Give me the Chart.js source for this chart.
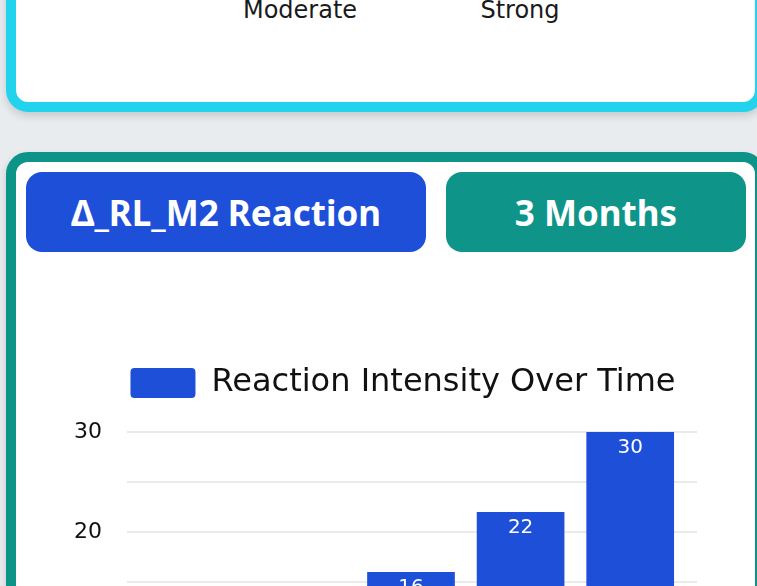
<!DOCTYPE html>
<html>
<head>
<meta charset="utf-8">
<script src="https://cdn.jsdelivr.net/npm/chart.js@4.4.0/dist/chart.umd.min.js"></script>
<style>
  html, body { margin: 0; padding: 0; }
  body { width: 757px; height: 586px; overflow: hidden; background: #e8ecef; position: relative; font-family: "DejaVu Sans", sans-serif; }
  .card { position: absolute; box-sizing: border-box; background: #fff; border-radius: 22px; box-shadow: 0 4px 8px rgba(0,0,0,0.15); }
  #topCard { left: 6px; top: -200px; width: 759px; height: 312px; border: 10px solid #22d3ee; }
  #chartCard { left: 6px; top: 152px; width: 759px; height: 800px; border: 10px solid #0d9488; }
  .lvl { position: absolute; top: -2px; font-size: 24px; line-height: 24px; color: #1a1a1a; transform: translateX(-50%); white-space: nowrap; }
  .head { position: absolute; top: 172px; height: 80px; border-radius: 16px; color: #fff; display: flex; align-items: center; justify-content: center; font-family: "Noto Sans", sans-serif; font-weight: 700; font-size: 35px; }
  #h1 { left: 26px; width: 400px; background: #1e4fd8; }
  #h2 { left: 446px; width: 300px; background: #0e9488; }
  #wrap { position: absolute; left: 26px; top: 272px; width: 720px; height: 520px; }
</style>
</head>
<body>
<div class="card" id="topCard"></div>
<div class="lvl" style="left:300px">Moderate</div>
<div class="lvl" style="left:520px">Strong</div>

<div class="card" id="chartCard"></div>
<div class="head" id="h1">Δ_RL_M2 Reaction</div>
<div class="head" id="h2">3 Months</div>

<div id="wrap"><canvas id="reactionChart"></canvas></div>

<script>
var labels = ["Baseline", "Week 2", "Month 1", "Month 2", "Month 3"];
var intensity = [6, 11, 16, 22, 30];
var yTicks = [0, 10, 20, 30];

var barBlue = "#1e4fd8";
var gridGray = "#ebebeb";

// white value labels near the top of each bar
var valueLabels = {
  id: "valueLabels",
  afterDatasetsDraw: function(chart) {
    var ctx = chart.ctx;
    ctx.save();
    ctx.fillStyle = "#fff";
    ctx.font = "20px 'DejaVu Sans'";
    ctx.textAlign = "center";
    ctx.textBaseline = "middle";
    chart.getDatasetMeta(0).data.forEach(function(bar, i) {
      ctx.fillText(intensity[i], bar.x, bar.y + 16);
    });
    ctx.restore();
  }
};

// leave some room under the legend
var legendGap = {
  id: "legendGap",
  beforeInit: function(chart) {
    var fit = chart.legend.fit;
    chart.legend.fit = function() {
      fit.bind(chart.legend)();
      this.height += 23;
    };
  }
};

var ctx = document.getElementById("reactionChart").getContext("2d");
var myChart = new Chart(ctx, {
  type: "bar",
  data: {
    labels: labels,
    datasets: [{
      label: "Reaction Intensity Over Time",
      data: intensity,
      backgroundColor: barBlue,
      borderWidth: 0,
      categoryPercentage: 0.8,
      barPercentage: 1.0
    }]
  },
  options: {
    responsive: true,
    maintainAspectRatio: false,
    animation: false,
    layout: { padding: { left: 47, right: 13, top: 85, bottom: 20 } },
    plugins: {
      legend: {
        labels: {
          boxWidth: 65,
          boxHeight: 30,
          useBorderRadius: true,
          borderRadius: 4,
          color: "#111",
          font: { family: "DejaVu Sans", size: 32 }
        }
      },
      tooltip: { enabled: false }
    },
    scales: {
      x: {
        grid: { display: false },
        border: { display: false },
        ticks: { color: "#111", font: { family: "DejaVu Sans", size: 20 } },
        afterFit: function(scale) { scale.height = 40; }
      },
      y: {
        min: 0,
        max: 30,
        border: { display: false },
        grid: { color: gridGray, lineWidth: 2, tickLength: 10 },
        ticks: {
          stepSize: 5,
          padding: 25,
          color: "#111",
          font: { family: "DejaVu Sans", size: 22 },
          callback: function(v) { return yTicks.indexOf(v) >= 0 ? v : ""; }
        },
        afterFit: function(scale) { scale.width = 64; }
      },
      y2: {
        position: "right",
        min: 0,
        max: 30,
        border: { display: false },
        grid: { color: gridGray, lineWidth: 2, tickLength: 12, drawOnChartArea: false },
        ticks: { stepSize: 5, display: false },
        afterFit: function(scale) { scale.width = 48; }
      }
    }
  },
  plugins: [valueLabels, legendGap]
});
</script>
</body>
</html>
